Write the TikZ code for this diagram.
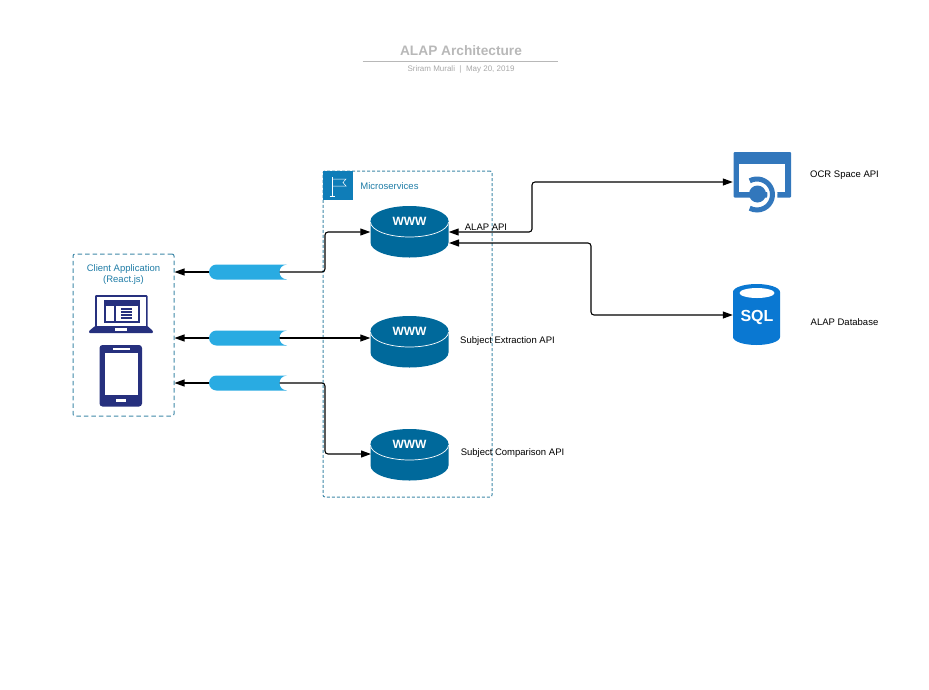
\documentclass[tikz,border=0pt]{standalone}
\usepackage{fontspec}
\setmainfont{Liberation Sans}
\usetikzlibrary{arrows.meta}
\definecolor{titlegrey}{HTML}{B8B8B8}
\definecolor{subgrey}{HTML}{A8A8A8}
\definecolor{ruleblue}{HTML}{3F88A8}
\definecolor{tealtext}{HTML}{1F7CA6}
\definecolor{disk}{HTML}{00699B}
\definecolor{tile}{HTML}{0F7DB8}
\definecolor{pipeblue}{HTML}{29ABE2}
\definecolor{navy}{HTML}{26307E}
\definecolor{ocrblue}{HTML}{3277BC}
\definecolor{sqlblue}{HTML}{0A78D2}
\begin{document}
\begin{tikzpicture}[
	x=1pt, y=-1pt,
	lbl/.style={ inner sep=0pt, font=\fontsize{9.5}{11}\selectfont },
	teal/.style={ inner sep=0pt, align=center, text=tealtext, font=\fontsize{9.5}{11}\selectfont },
	frame/.style={ draw=ruleblue, line width=1pt, dash pattern=on 4.5pt off 3pt, rounded corners=2pt, inner sep=0pt },
	diskbox/.style={ inner sep=0pt, minimum width=78pt, minimum height=51pt },
	pipebox/.style={ inner sep=0pt, minimum width=78pt, minimum height=15pt },
	iconbox/.style={ inner sep=0pt, minimum width=58pt, minimum height=60pt },
	link/.style={ draw=black, line width=1.1pt, rounded corners=3pt, -{Triangle[length=10pt,width=7pt]} },
	linkboth/.style={ link, {Triangle[length=10pt,width=7pt]}-{Triangle[length=10pt,width=7pt]} }
]

\useasboundingbox (0,0) rectangle (929,689);

\node at (461,50.5) (title) [inner sep=0pt,text=titlegrey,font=\fontsize{13.7}{15}\bfseries\selectfont] {ALAP Architecture};
\node at (461,69) (subtitle) [inner sep=0pt,text=subgrey,font=\fontsize{8}{10}\selectfont] {Sriram Murali\ \ |\ \ May 20, 2019};
\draw [titlegrey,line width=1pt] (362.5,61) -- (558,61);

\node at (123.5,335) (client) [frame,minimum width=101pt,minimum height=162pt] {};
\node at (407.5,334) (micro) [frame,dash pattern=on 3pt off 2pt,minimum width=169pt,minimum height=326pt] {};
\node at (248,272) (pipea) [pipebox] {};
\node at (248,338) (pipeb) [pipebox] {};
\node at (248,383) (pipec) [pipebox] {};
\node at (409.5,232) (wwwa) [diskbox] {};
\node at (409.5,342) (wwwb) [diskbox] {};
\node at (409.5,455) (wwwc) [diskbox] {};
\node at (762,182) (ocr) [iconbox] {};
\node at (757,315) (sql) [iconbox,minimum width=48pt] {};
\coordinate (wwwain) at (449,243);

\path [link] (pipea.center) -- (pipea -| client.east);
\path [link] (pipeb.center) -- (pipeb -| client.east);
\path [link] (pipec.center) -- (pipec -| client.east);
\path [link] (pipea.center) -- (325,272) -- (325,232) -- (wwwa.west);
\path [link] (pipeb.center) -- (pipeb -| wwwb.west);
\path [link] (pipec.center) -- (325,383) -- (325,454) -- (371,454);
\path [linkboth] (wwwa.east) -- (532,232) -- (532,182) -- (ocr.west);
\path [linkboth] (wwwain) -- (591,243) -- (591,315) -- (sql.west);

\foreach \y in {272,338,383}
	\fill [pipeblue] (287,\y-7.5) .. controls (282,\y-7) and (279.5,\y-4) .. (279.5,\y) .. controls (279.5,\y+4) and (282,\y+7) .. (287,\y+7.5) -- (216.5,\y+7.5) arc[start angle=90,end angle=270,radius=7.5] -- cycle;

\foreach \y in {232,342,455} {
	\fill [disk] (370.5,\y-11) -- (370.5,\y+10.5) arc[start angle=180,end angle=0,x radius=39,y radius=15] -- (448.5,\y-11) -- cycle;
	\fill [disk] (409.5,\y-11) ellipse [x radius=39,y radius=15];
	\draw [white,line width=0.7pt] (370.5,\y-10) arc[start angle=180,end angle=0,x radius=39,y radius=15];
	\node at (409.5,\y-11) [inner sep=0pt,text=white,font=\fontsize{12}{14}\bfseries\selectfont] {WWW};
}

\fill [tile] (323,171) rectangle (352.5,200);
\draw [white,line width=0.5pt] (332,177) -- (332,196) (329.5,196) -- (334.5,196);
\draw [white,line width=0.5pt] (332,179) -- (346,179) -- (343,182.5) -- (346,186) -- (332,186);

\node at (389.5,186.5) (microtext) [teal] {Microservices};
\node at (123.5,274.5) (clienttext) [teal] {Client Application\\(React.js)};
\node at (486,227.5) (alapapi) [lbl] {ALAP API};
\node at (507.5,341) (extract) [lbl] {Subject Extraction API};
\node at (512.5,453.5) (compare) [lbl] {Subject Comparison API};
\node at (844.5,175.5) (ocrtext) [lbl] {OCR Space API};
\node at (844.5,322.5) (sqltext) [lbl] {ALAP Database};

\fill [navy,rounded corners=1pt] (95,295) rectangle (147.5,328);
\fill [navy,rounded corners=1pt] (95,326) -- (147.5,326) -- (153,331) -- (153,333) -- (89,333) -- (89,331) -- cycle;
\fill [white] (97,297) rectangle (145.5,326);
\fill [navy] (103.5,299.5) rectangle (139.5,322.5);
\fill [white] (105.5,306) rectangle (113.5,320.5);
\fill [white] (116,306) rectangle (137.5,320.5);
\foreach \y in {307.5,310.5,313.5,316.5}
	\fill [navy] (121,\y) rectangle (132,\y+2);
\fill [white] (115,328) rectangle (127,331);

\fill [navy,rounded corners=3pt] (99.5,345) rectangle (142,406.5);
\fill [white] (104.5,352.5) rectangle (137.5,394.5);
\fill [white] (113,347.5) rectangle (129.5,350);
\fill [white] (116,399) rectangle (126,402);

\fill [ocrblue,rounded corners=1pt] (733.5,152) rectangle (791,197.5);
\fill [white] (739,163.5) rectangle (785,192);
\draw [white,line width=10pt] (757,194.5) ++(-70:15.5) arc[start angle=-70,end angle=90,radius=15.5];
\draw [ocrblue,line width=5pt] (757,194.5) ++(-118:15.5) arc[start angle=-118,end angle=118,radius=15.5];
\fill [ocrblue] (757.5,194) circle [radius=8.5];

\fill [sqlblue] (733,292) -- (733,337) arc[start angle=180,end angle=0,x radius=23.5,y radius=8] -- (780,292) arc[start angle=0,end angle=-180,x radius=23.5,y radius=8] -- cycle;
\fill [white] (757,293) ellipse [x radius=17.5,y radius=5];
\node at (757,317) (sqlword) [inner sep=0pt,text=white,font=\fontsize{16}{18}\bfseries\selectfont] {SQL};

\end{tikzpicture}
\end{document}
